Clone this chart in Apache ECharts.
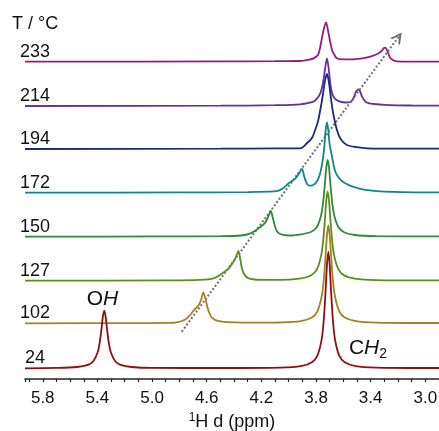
<!DOCTYPE html>
<html>
<head>
<meta charset="utf-8">
<script src="https://cdn.jsdelivr.net/npm/echarts@6/dist/echarts.min.js"></script>
<style>
  html, body { margin: 0; padding: 0; background: #fff; }
  #chart { width: 439px; height: 431px; }
</style>
</head>
<body>
<div id="chart"></div>
<script>
// temperatures, bottom trace first
const temps = ['24', '102', '127', '150', '172', '194', '214', '233'];
const colors = ['#8e0e12', '#a4821e', '#5a9018', '#2e8b3a', '#11858a', '#1a2a80', '#6330a0', '#9a1a7c'];
// vertical offset of each trace baseline
const offsets = [10.7, 55.7, 98.3, 142.3, 186.3, 230, 273, 317.3];
const tickLabels = ['5.8', '5.4', '5.0', '4.6', '4.2', '3.8', '3.4', '3.0'];

// [ppm, intensity]
const t24 = [[5.93,0],[5.70,0.4],[5.55,1.3],[5.47,3.4],[5.43,7.1],[5.40,15.3],[5.385,24.2],[5.37,39.7],[5.36,51.8],[5.35,57.6],[5.34,51.8],[5.33,39.7],[5.315,24.2],[5.30,15.3],[5.27,7.1],[5.23,3.4],[5.15,1.3],[5.0,0.4],[4.5,0.3],[4.06,0.7],[3.91,2.2],[3.83,6.1],[3.79,12.7],[3.76,27.9],[3.745,45.5],[3.73,77.2],[3.72,103.4],[3.71,116.6],[3.70,103.4],[3.69,77.2],[3.675,45.5],[3.66,27.9],[3.63,12.7],[3.59,6.1],[3.51,2.2],[3.36,0.7],[3.0,0.3],[2.9,0.3]];
const t102 = [[5.93,0],[5.1,0.2],[4.9,0.4],[4.82,1],[4.76,3.5],[4.72,8.5],[4.695,13],[4.675,15.5],[4.655,19],[4.64,24],[4.625,31],[4.61,25],[4.595,16],[4.58,10],[4.56,5.5],[4.52,2.5],[4.45,1.2],[4.2,0.6],[4.06,0.8],[3.91,2.2],[3.83,5.8],[3.79,12],[3.76,26],[3.745,41],[3.73,68],[3.72,88],[3.71,98],[3.70,88],[3.69,68],[3.675,41],[3.66,26],[3.63,12],[3.59,5.8],[3.51,2.2],[3.36,0.7],[3.0,0.3],[2.9,0.3]];
const t127 = [[5.93,0],[4.9,0.3],[4.65,0.8],[4.55,2.4],[4.49,7],[4.44,12],[4.415,17],[4.395,21],[4.38,26],[4.368,29.7],[4.355,22],[4.345,14],[4.33,7.5],[4.3,2.8],[4.25,1.2],[4.15,0.8],[4.0,1.0],[3.91,2.3],[3.835,5.5],[3.795,11],[3.765,23.6],[3.75,37],[3.735,61],[3.725,80],[3.715,89],[3.705,80],[3.695,61],[3.68,37],[3.665,23.6],[3.635,11],[3.595,5.3],[3.515,2],[3.36,0.6],[3.0,0.3],[2.9,0.3]];
const t150 = [[5.93,0],[4.9,0.3],[4.5,0.5],[4.35,1.2],[4.28,3.4],[4.21,9.4],[4.175,13.5],[4.16,17],[4.145,21.5],[4.131,25.7],[4.12,21],[4.106,13.4],[4.087,5.5],[4.05,2],[3.98,1.2],[3.91,2.3],[3.835,5],[3.795,9.4],[3.765,20.3],[3.75,32],[3.735,53],[3.725,69],[3.715,76.7],[3.705,69],[3.695,53],[3.68,32],[3.665,20.3],[3.635,9.4],[3.595,4.5],[3.515,1.7],[3.36,0.5],[3.0,0.3],[2.9,0.3]];
const t172 = [[5.93,0],[4.8,0.3],[4.3,0.6],[4.15,1],[4.087,1.5],[4.04,4.4],[4.0,9.4],[3.95,14.4],[3.925,19],[3.903,23.7],[3.886,16],[3.867,9],[3.845,7],[3.825,7.5],[3.8,10],[3.775,17],[3.755,29],[3.74,45],[3.73,62],[3.72,70.4],[3.71,62],[3.70,48],[3.683,36],[3.659,21],[3.622,13],[3.58,9],[3.53,6],[3.45,3],[3.3,1],[3.0,0.3],[2.9,0.3]];
const t194 = [[5.93,0],[4.5,0.3],[4.1,0.6],[3.916,0.7],[3.867,5.7],[3.83,11],[3.806,19],[3.785,28],[3.769,39],[3.75,54],[3.735,68],[3.72,75],[3.705,66],[3.69,50],[3.675,36],[3.647,19],[3.62,10],[3.574,4],[3.5,1.8],[3.427,0.7],[3.2,0.3],[2.9,0.3]];
const t214 = [[5.93,0],[4.5,0.3],[4.1,0.8],[3.916,1.7],[3.818,4.3],[3.79,8],[3.769,12.7],[3.75,22],[3.735,36],[3.72,47.7],[3.708,38],[3.696,22.7],[3.685,14],[3.672,9.3],[3.65,6],[3.623,4.3],[3.585,3.5],[3.55,4],[3.528,7],[3.513,12.7],[3.498,16],[3.488,16.7],[3.476,14],[3.463,9.3],[3.439,4.3],[3.41,2.6],[3.378,2],[3.3,1.2],[3.1,0.5],[2.9,0.3]];
const t233 = [[5.93,0],[4.5,0.3],[4.1,0.5],[3.916,0.7],[3.85,2],[3.818,3.3],[3.785,7],[3.769,15],[3.745,31.7],[3.727,39.4],[3.708,28],[3.683,11.7],[3.66,5.5],[3.647,3.3],[3.6,2.4],[3.525,2.4],[3.45,3.5],[3.403,5],[3.342,8.4],[3.315,11.5],[3.305,13.4],[3.293,14],[3.276,10],[3.256,3.4],[3.23,1.2],[3.207,0.3],[3.0,0],[2.9,0]];
const spectra = [t24, t102, t127, t150, t172, t194, t214, t233];

// dotted arrow following the OH shift
const arrowStart = [4.783, 47.3];
const arrowEnd = [3.197, 342];

const font = 'Liberation Sans, Arial, sans-serif';
const chart = echarts.init(document.getElementById('chart'));

const series = [];
for (let i = spectra.length - 1; i >= 0; i--) {
    series.push({
        type: 'line',
        data: spectra[i].map(p => [p[0], p[1] + offsets[i]]),
        smooth: 0.3,
        symbol: 'none',
        silent: true,
        lineStyle: { color: colors[i], width: 1.8 },
        z: 10 - i
    });
}
series[series.length - 1].markLine = {
    silent: true,
    symbol: ['none', 'path://M0,10 L5,0 L10,10 L8.2,10 L5,4 L1.8,10 Z'],
    symbolSize: [12, 11],
    label: { show: false },
    lineStyle: { type: [2, 2], color: '#707070', width: 2 },
    data: [[{ coord: arrowStart }, { coord: arrowEnd }]]
};

chart.setOption({
    animation: false,
    grid: { left: 25, right: 0, top: 0, bottom: 52, containLabel: false, outerBoundsMode: 'none' },
    xAxis: {
        type: 'value',
        inverse: true,
        min: 2.9,
        max: 5.93,
        interval: 0.1,
        splitLine: { show: false },
        axisLine: { lineStyle: { color: '#222', width: 1.5 } },
        axisTick: { length: 3, lineStyle: { color: '#222', width: 1.2 } },
        axisLabel: {
            color: '#111', fontSize: 17, fontFamily: font, margin: 11,
            formatter: v => tickLabels.includes(v.toFixed(1)) ? v.toFixed(1) : ''
        },
        name: '{sup|1}{n|H d (ppm)}',
        nameLocation: 'middle',
        nameGap: 28,
        nameTextStyle: {
            fontFamily: font, color: '#111',
            rich: {
                sup: { fontSize: 12, fontFamily: font, color: '#111', verticalAlign: 'top', lineHeight: 20 },
                n: { fontSize: 18, fontFamily: font, color: '#111', lineHeight: 20 }
            }
        }
    },
    yAxis: { type: 'value', min: 0, max: 379, show: false },
    series: series
});

const graphic = [{
    type: 'text', left: 12, top: 15,
    style: { text: 'T / °C', font: '18px ' + font, fill: '#111' }
}];
temps.forEach((t, i) => {
    const y = chart.convertToPixel({ gridIndex: 0 }, [5.93, offsets[i]])[1];
    graphic.push({
        type: 'text', x: 35, y: y - 10,
        style: { text: t, font: '18px ' + font, fill: '#111', align: 'center', verticalAlign: 'middle' }
    });
});
graphic.push({
    type: 'text', x: 102.5, y: 299,
    style: {
        text: '{n|O}{i|H}', align: 'center', verticalAlign: 'middle',
        rich: {
            n: { font: '21px ' + font, fill: '#111' },
            i: { font: 'italic 21px ' + font, fill: '#111' }
        }
    }
});
graphic.push({
    type: 'text', x: 368, y: 348,
    style: {
        text: '{n|C}{i|H}{s|2}', align: 'center', verticalAlign: 'middle',
        rich: {
            n: { font: '21px ' + font, fill: '#111', lineHeight: 26 },
            i: { font: 'italic 21px ' + font, fill: '#111', lineHeight: 26 },
            s: { font: '14px ' + font, fill: '#111', verticalAlign: 'bottom', lineHeight: 14 }
        }
    }
});
chart.setOption({ graphic: graphic });
</script>
</body>
</html>
